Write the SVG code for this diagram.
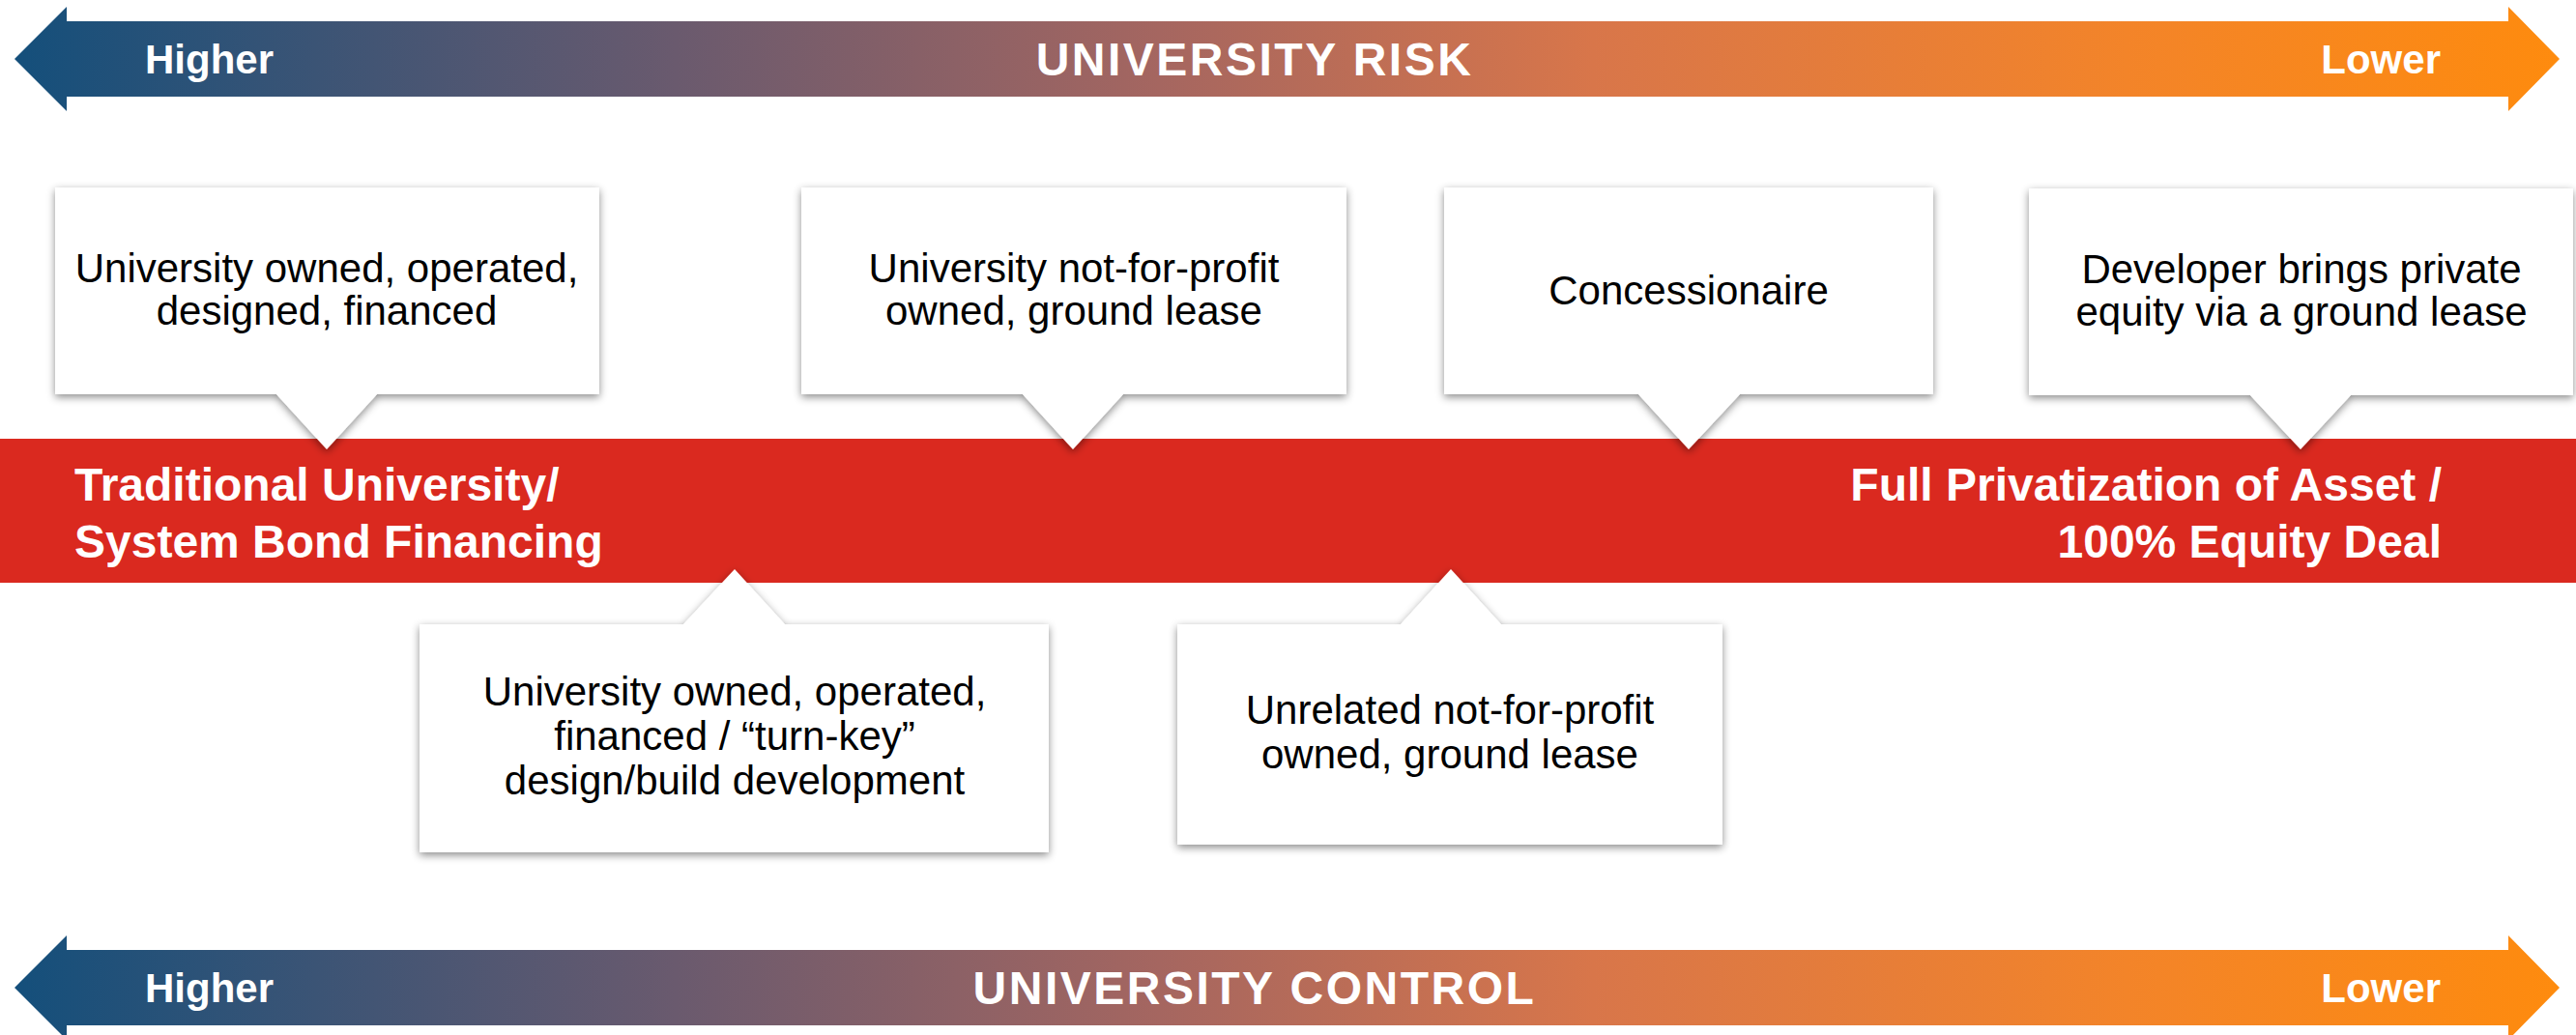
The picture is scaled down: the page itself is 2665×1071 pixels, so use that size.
<svg xmlns="http://www.w3.org/2000/svg" width="2665" height="1071" viewBox="0 0 2665 1071">
<style>
.box{fill:#fff;filter:url(#sh)}
.bt{font-family:"Liberation Sans",Arial,sans-serif;font-size:42px;fill:#000;text-anchor:middle}
.at{font-family:"Liberation Sans",Arial,sans-serif;font-weight:bold;fill:#fff}
.big{font-size:48px;letter-spacing:2.5px;text-anchor:middle}
.sm{font-size:42px}
.rt{font-family:"Liberation Sans",Arial,sans-serif;font-weight:bold;font-size:48px;fill:#fff}
</style>
<defs>
<linearGradient id="g" gradientUnits="userSpaceOnUse" x1="15" y1="0" x2="2648" y2="0">
<stop offset="0" stop-color="#144f7b"/>
<stop offset="0.26" stop-color="#6a5a6e"/>
<stop offset="0.45" stop-color="#a56660"/>
<stop offset="0.62" stop-color="#d8764a"/>
<stop offset="0.83" stop-color="#f38429"/>
<stop offset="1" stop-color="#fe8b0e"/>
</linearGradient>
<filter id="sh" x="-10%" y="-10%" width="120%" height="130%">
<feDropShadow dx="0" dy="3" stdDeviation="4" flood-color="#000" flood-opacity="0.45"/>
</filter>
</defs>

<g id="risk-arrow">
<path d="M15,61 L69,7 L69,22 L2595,22 L2595,7 L2648,61 L2595,115 L2595,100 L69,100 L69,115 Z" fill="url(#g)"/>
<text class="at sm" x="150" y="76">Higher</text>
<text class="at big" x="1298" y="78">UNIVERSITY RISK</text>
<text class="at sm" x="2525" y="76" text-anchor="end">Lower</text>
</g>

<g id="control-arrow">
<path d="M15,1022 L69,968 L69,983 L2595,983 L2595,968 L2648,1022 L2595,1076 L2595,1061 L69,1061 L69,1076 Z" fill="url(#g)"/>
<text class="at sm" x="150" y="1037">Higher</text>
<text class="at big" x="1298" y="1039">UNIVERSITY CONTROL</text>
<text class="at sm" x="2525" y="1037" text-anchor="end">Lower</text>
</g>

<g id="spectrum-bar">
<rect x="0" y="454" width="2665" height="149" fill="#da291f"/>
<text class="rt" x="77" y="518">Traditional University/</text>
<text class="rt" x="77" y="577">System Bond Financing</text>
<text class="rt" x="2526" y="518" text-anchor="end">Full Privatization of Asset /</text>
<text class="rt" x="2526" y="577" text-anchor="end">100% Equity Deal</text>
</g>

<g id="connectors"></g>

<g id="callout-1">
<path class="box" d="M57,194 H620 V408 H390 L338,465 L286,408 H57 Z"/>
<text class="bt" x="338" y="292">University owned, operated,</text>
<text class="bt" x="338" y="336">designed, financed</text>
</g>

<g id="callout-2">
<path class="box" d="M829,194 H1393 V408 H1162 L1110,465 L1058,408 H829 Z"/>
<text class="bt" x="1111" y="292">University not-for-profit</text>
<text class="bt" x="1111" y="336">owned, ground lease</text>
</g>

<g id="callout-3">
<path class="box" d="M1494,194 H2000 V408 H1800 L1747,465 L1695,408 H1494 Z"/>
<text class="bt" x="1747" y="315">Concessionaire</text>
</g>

<g id="callout-4">
<path class="box" d="M2099,195 H2662 V409 H2432 L2380,465 L2328,409 H2099 Z"/>
<text class="bt" x="2381" y="293">Developer brings private</text>
<text class="bt" x="2381" y="337">equity via a ground lease</text>
</g>

<g id="callout-5">
<path class="box" d="M434,646 H707 L760,589 L812,646 H1085 V882 H434 Z"/>
<text class="bt" x="760" y="730">University owned, operated,</text>
<text class="bt" x="760" y="776">financed / “turn-key”</text>
<text class="bt" x="760" y="822">design/build development</text>
</g>

<g id="callout-6">
<path class="box" d="M1218,646 H1449 L1501,589 L1553,646 H1782 V874 H1218 Z"/>
<text class="bt" x="1500" y="749">Unrelated not-for-profit</text>
<text class="bt" x="1500" y="795">owned, ground lease</text>
</g>
</svg>
